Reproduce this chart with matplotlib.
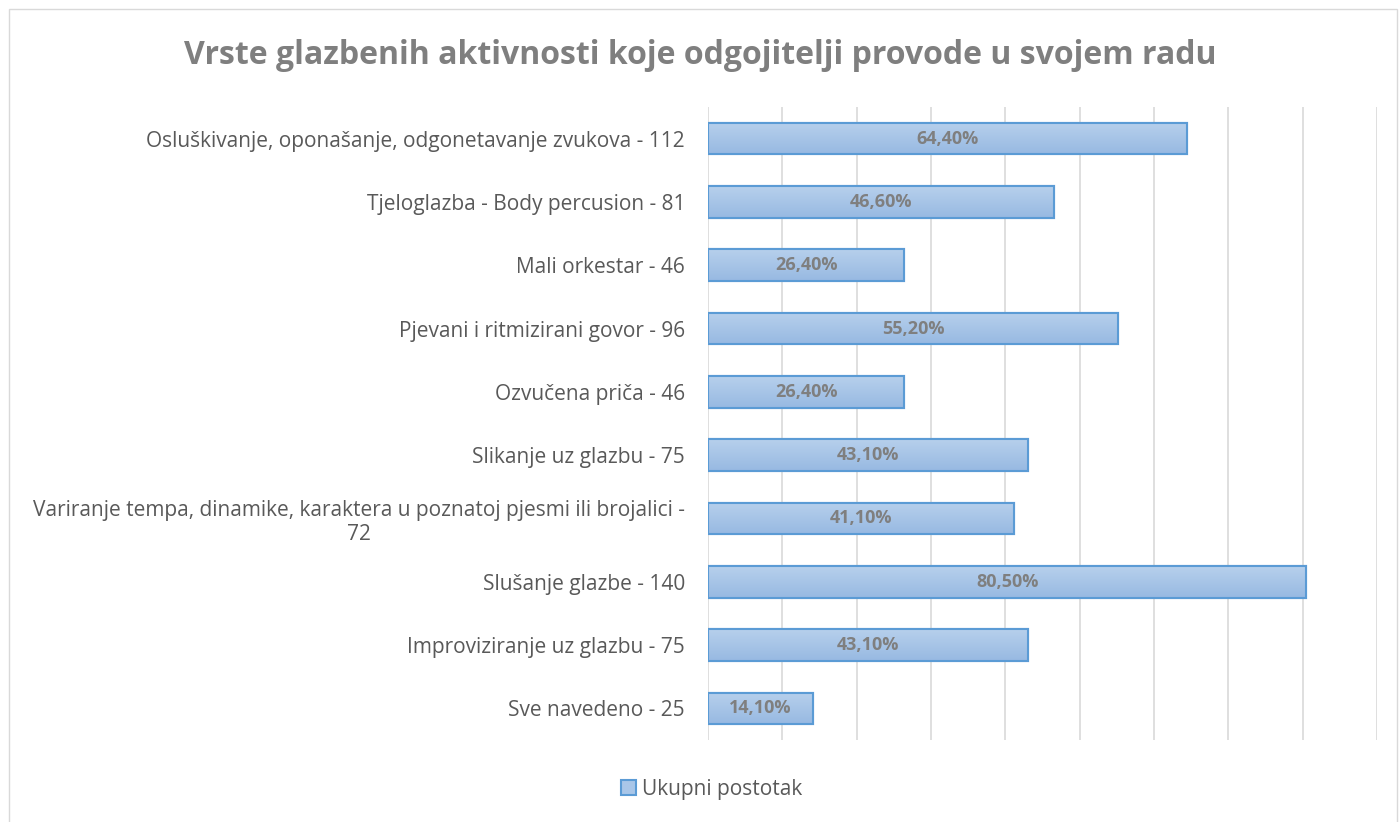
import matplotlib
matplotlib.use('Agg')
import matplotlib.pyplot as plt
import numpy as np
from matplotlib.patches import Rectangle

plt.rcParams['font.family'] = ['Open Sans', 'DejaVu Sans']

# podaci
kategorije = [
    'Osluškivanje, oponašanje, odgonetavanje zvukova - 112',
    'Tjeloglazba - Body percusion - 81',
    'Mali orkestar - 46',
    'Pjevani i ritmizirani govor - 96',
    'Ozvučena priča - 46',
    'Slikanje uz glazbu - 75',
    'Variranje tempa, dinamike, karaktera u poznatoj pjesmi ili brojalici -\n72',
    'Slušanje glazbe - 140',
    'Improviziranje uz glazbu - 75',
    'Sve navedeno - 25',
]
postotci = [64.4, 46.6, 26.4, 55.2, 26.4, 43.1, 41.1, 80.5, 43.1, 14.1]

fig = plt.figure(figsize=(14, 8.22), dpi=100)
ax = fig.add_axes([708 / 1400, 1 - 740 / 822, 669 / 1400, 633 / 822])

y = np.arange(len(kategorije))
bars = ax.barh(y, postotci, height=0.5, color='#A9C6E8', edgecolor='#5B9BD5',
               linewidth=1.5, zorder=3, label='Ukupni postotak')

# gradijent unutar stupaca
grad = np.linspace(0, 1, 64).reshape(-1, 1)
cmap = matplotlib.colors.LinearSegmentedColormap.from_list('g', ['#B7D0EC', '#97B9E2'])
for b in bars:
    x0, y0 = b.get_x(), b.get_y()
    w, h = b.get_width(), b.get_height()
    im = ax.imshow(grad, cmap=cmap, aspect='auto', extent=(x0, x0 + w, y0 + h, y0),
                   zorder=3.5, origin='upper')
    im.set_clip_path(b)
    ax.add_patch(Rectangle((x0, y0), w, h, fill=False, edgecolor='#5B9BD5',
                           linewidth=1.5, zorder=4))
    ax.text(x0 + w / 2, y0 + h / 2, f'{w:.2f}%'.replace('.', ','), ha='center',
            va='center', fontsize=13, fontweight='bold', color='#7F7F7F', zorder=5)

ax.set_xlim(0, 90)
ax.set_ylim(len(kategorije) - 0.5, -0.5)
ax.set_xticks(np.arange(0, 91, 10))
ax.set_xticklabels([])
ax.tick_params(axis='x', length=0)
ax.tick_params(axis='y', length=0, pad=16.5, labelsize=15, labelcolor='#595959')
ax.set_yticks(y)
ax.set_yticklabels(kategorije, ha='right', multialignment='center')
ax.grid(axis='x', color='#D9D9D9', linewidth=1.2, zorder=0)
for s in ax.spines.values():
    s.set_visible(False)

fig.text(0.5, 1 - 55 / 822, 'Vrste glazbenih aktivnosti koje odgojitelji provode u svojem radu',
         ha='center', va='center', fontsize=23, fontweight='bold', color='#7F7F7F')

leg = fig.legend(handles=[bars], loc='center', bbox_to_anchor=(712 / 1400, 1 - 789 / 822),
                 frameon=False, fontsize=15, handlelength=0.7, handleheight=0.7,
                 handletextpad=0.3)
for t in leg.get_texts():
    t.set_color('#595959')

fig.patches.append(Rectangle((9 / 1400, -0.01), 1388 / 1400, 1 - 9 / 822 + 0.01,
                             transform=fig.transFigure, fill=False,
                             edgecolor='#D9D9D9', linewidth=1))

plt.savefig('out.png', dpi=100)
